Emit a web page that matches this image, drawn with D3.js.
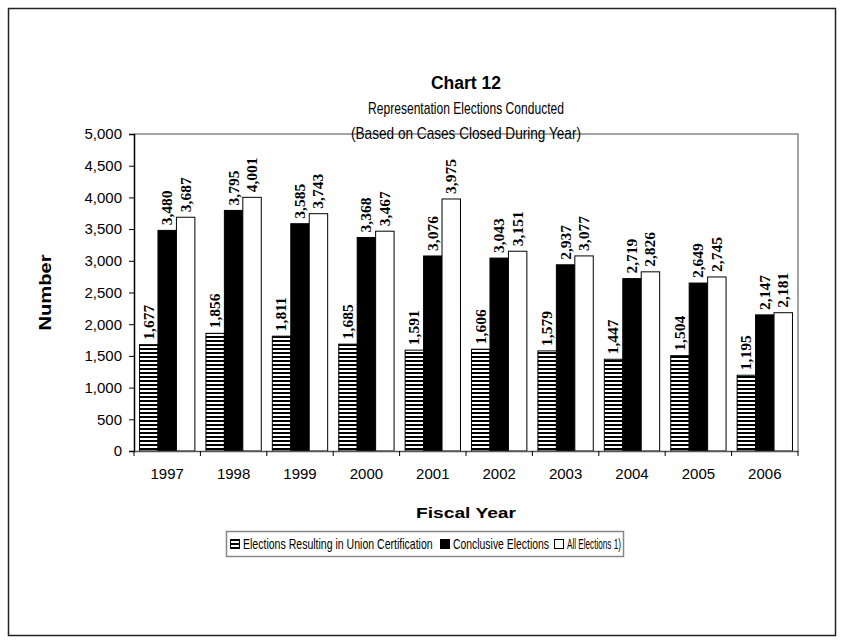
<!DOCTYPE html>
<html lang="en">
<head>
    <meta charset="UTF-8">
    <title>Chart 12 - Representation Elections Conducted</title>
    <script src="https://d3js.org/d3.v7.min.js"></script>
    <style>
        html, body {
            margin: 0;
            background: #fff;
        }
        svg text {
            font-family: Arial, "Liberation Sans", sans-serif;
        }
    </style>
</head>
<body>
    <div id="vis"></div>
    <script>
        // data
        var years = ["1997", "1998", "1999", "2000", "2001", "2002", "2003", "2004", "2005", "2006"];
        var unionCert = [1677, 1856, 1811, 1685, 1591, 1606, 1579, 1447, 1504, 1195];
        var conclusive = [3480, 3795, 3585, 3368, 3076, 3043, 2937, 2719, 2649, 2147];
        var allElections = [3687, 4001, 3743, 3467, 3975, 3151, 3077, 2826, 2745, 2181];
        var seriesNames = ["Elections Resulting in Union Certification", "Conclusive Elections", "All Elections 1)"];
        var yTicks = [0, 500, 1000, 1500, 2000, 2500, 3000, 3500, 4000, 4500, 5000];

        var W = 847, H = 643;
        var plot = {left: 134, right: 798, top: 134, bottom: 451};

        var svg = d3.select('#vis')
            .append('svg')
                .attr('width', W)
                .attr('height', H);

        // striped fill for the first series
        var pat = svg.append('defs').append('pattern')
            .attr('id', 'stripes')
            .attr('patternUnits', 'userSpaceOnUse')
            .attr('width', 8)
            .attr('height', 4);
        pat.append('rect').attr('width', 8).attr('height', 4).attr('fill', '#fff');
        pat.append('rect').attr('width', 8).attr('height', 2).attr('fill', '#000');

        var fills = ['url(#stripes)', '#000', '#fff'];

        // outer frame
        svg.append('rect')
            .attr('x', 8.5).attr('y', 8.5)
            .attr('width', 827).attr('height', 627)
            .attr('fill', 'none')
            .attr('stroke', '#222')
            .attr('stroke-width', 1.5);

        var x0 = d3.scaleBand()
            .domain(years)
            .range([plot.left, plot.right]);

        var x1 = d3.scaleBand()
            .domain([0, 1, 2])
            .range([0, x0.bandwidth()])
            .paddingOuter(0.3);

        var y = d3.scaleLinear()
            .domain([0, 5000])
            .range([plot.bottom, plot.top]);

        // plot border (top & right, grey)
        svg.append('path')
            .attr('d', 'M' + plot.left + ',' + plot.top + 'H' + plot.right + 'V' + plot.bottom)
            .attr('fill', 'none')
            .attr('stroke', '#888')
            .attr('stroke-width', 1.5);

        var rows = years.map(function(yr, i) {
            return {year: yr, values: [unionCert[i], conclusive[i], allElections[i]]};
        });

        var groups = svg.selectAll('.group')
            .data(rows)
            .enter()
            .append('g')
            .attr('class', 'group')
            .attr('transform', function(d) { return 'translate(' + x0(d.year) + ',0)'; });

        groups.selectAll('rect')
            .data(function(d) { return d.values; })
            .enter()
            .append('rect')
            .attr('x', function(d, i) { return x1(i); })
            .attr('y', function(d) { return y(d); })
            .attr('width', x1.bandwidth())
            .attr('height', function(d) { return y(0) - y(d); })
            .attr('fill', function(d, i) { return fills[i]; })
            .attr('stroke', '#000')
            .attr('stroke-width', 1);

        groups.selectAll('.lbl')
            .data(function(d) { return d.values; })
            .enter()
            .append('text')
            .attr('class', 'lbl')
            .attr('transform', function(d, i) {
                return 'translate(' + (x1(i) + x1.bandwidth() / 2 - 0.5) + ',' + (y(d) - 5) + ')rotate(-90)';
            })
            .attr('dy', '0.35em')
            .style('font-family', '"Liberation Serif", "Times New Roman", serif')
            .style('font-weight', 'bold')
            .style('font-size', '15.5px')
            .text(function(d) { return d3.format(',')(d); });

        // axes
        var yAxis = d3.axisLeft(y)
            .tickValues(yTicks)
            .tickFormat(d3.format(','))
            .tickSizeOuter(0)
            .tickSize(5)
            .tickPadding(7);

        var gy = svg.append('g')
            .attr('transform', 'translate(' + plot.left + ',0)')
            .call(yAxis);
        gy.select('.domain').attr('stroke', '#000').attr('stroke-width', 1.5);
        gy.selectAll('text').style('font-size', '15px').attr('fill', '#000');

        var xAxis = d3.axisBottom(x0)
            .tickSize(0)
            .tickPadding(17);

        var gx = svg.append('g')
            .attr('transform', 'translate(0,' + plot.bottom + ')')
            .call(xAxis);
        gx.select('.domain').attr('stroke', '#555').attr('stroke-width', 1.5);
        gx.selectAll('text').style('font-size', '15px').attr('fill', '#000');

        // tick marks between categories
        gx.selectAll('.sep')
            .data(years.concat(['end']))
            .enter()
            .append('line')
            .attr('class', 'sep')
            .attr('x1', function(d, i) { return plot.left + i * x0.bandwidth(); })
            .attr('x2', function(d, i) { return plot.left + i * x0.bandwidth(); })
            .attr('y1', 0)
            .attr('y2', 5)
            .attr('stroke', '#000');

        // titles
        var cx = (plot.left + plot.right) / 2;
        svg.append('text')
            .attr('x', cx).attr('y', 89)
            .attr('text-anchor', 'middle')
            .style('font-weight', 'bold')
            .style('font-size', '17.5px')
            .text('Chart 12');
        svg.append('text')
            .attr('x', cx).attr('y', 114)
            .attr('text-anchor', 'middle')
            .style('font-size', '17px')
            .attr('textLength', 196)
            .attr('lengthAdjust', 'spacingAndGlyphs')
            .text('Representation Elections Conducted');
        svg.append('text')
            .attr('x', cx).attr('y', 139)
            .attr('text-anchor', 'middle')
            .style('font-size', '17px')
            .attr('textLength', 230)
            .attr('lengthAdjust', 'spacingAndGlyphs')
            .text('(Based on Cases Closed During Year)');

        svg.append('text')
            .attr('x', cx).attr('y', 518)
            .attr('text-anchor', 'middle')
            .style('font-weight', 'bold')
            .style('font-size', '15px')
            .attr('textLength', 100)
            .attr('lengthAdjust', 'spacingAndGlyphs')
            .text('Fiscal Year');

        svg.append('text')
            .attr('transform', 'translate(51,' + ((plot.top + plot.bottom) / 2) + ')rotate(-90)')
            .attr('text-anchor', 'middle')
            .style('font-weight', 'bold')
            .style('font-size', '17px')
            .attr('textLength', 76)
            .attr('lengthAdjust', 'spacingAndGlyphs')
            .text('Number');

        // legend
        var legend = svg.append('g').attr('transform', 'translate(226,531)');
        legend.append('rect')
            .attr('x', 0.5).attr('y', 0.5)
            .attr('width', 397).attr('height', 25)
            .attr('fill', '#fff')
            .attr('stroke', '#888')
            .attr('stroke-width', 1.5);

        var legendX = [4, 214, 328];
        var legendLen = [190, 96, 54];
        var items = legend.selectAll('.item')
            .data(seriesNames)
            .enter()
            .append('g')
            .attr('class', 'item')
            .attr('transform', function(d, i) { return 'translate(' + legendX[i] + ',0)'; });
        items.append('rect')
            .attr('x', 0.5).attr('y', 8.5)
            .attr('width', 9).attr('height', 9)
            .attr('fill', function(d, i) { return fills[i]; })
            .attr('stroke', '#000');
        // squeeze each label horizontally to the width it takes in the original
        items.append('text')
            .style('font-size', '14px')
            .text(function(d) { return d; })
            .attr('transform', function(d, i) {
                var w = this.getComputedTextLength();
                return 'translate(13,18)scale(' + (legendLen[i] / w) + ',1)';
            });
    </script>
</body>
</html>
